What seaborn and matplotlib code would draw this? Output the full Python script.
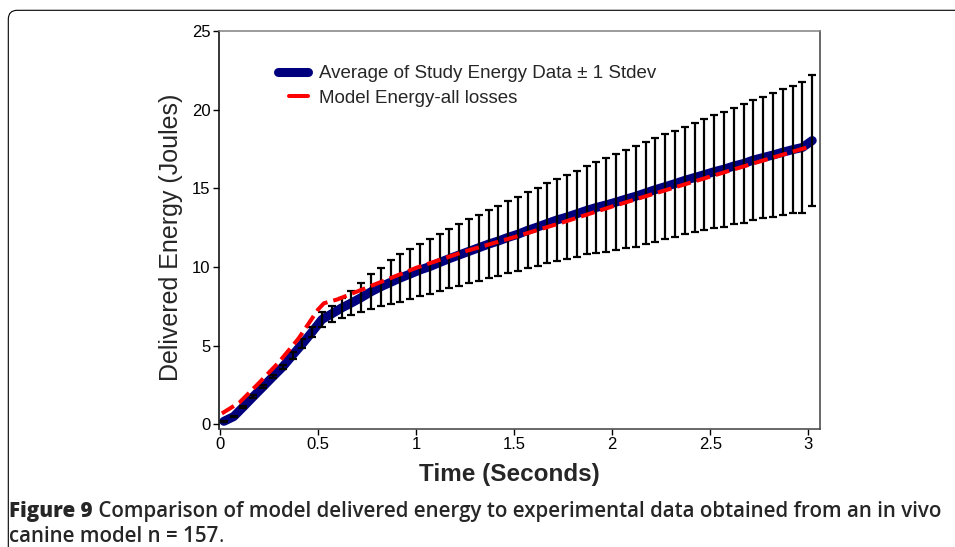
import matplotlib
matplotlib.use('Agg')
import matplotlib.pyplot as plt
import seaborn as sns
from matplotlib.lines import Line2D
from matplotlib.legend_handler import HandlerLine2D
from matplotlib.patches import FancyBboxPatch
from matplotlib.transforms import IdentityTransform

# study data, mean +/- 1 stdev, every 0.05 s
time_s = [0.02, 0.07, 0.12, 0.17, 0.22, 0.27, 0.32, 0.37, 0.42, 0.47,
          0.52, 0.57, 0.62, 0.67, 0.72, 0.77, 0.82, 0.87, 0.92, 0.97,
          1.02, 1.07, 1.12, 1.17, 1.22, 1.27, 1.32, 1.37, 1.42, 1.47,
          1.52, 1.57, 1.62, 1.67, 1.72, 1.77, 1.82, 1.87, 1.92, 1.97,
          2.02, 2.07, 2.12, 2.17, 2.22, 2.27, 2.32, 2.37, 2.42, 2.47,
          2.52, 2.57, 2.62, 2.67, 2.72, 2.77, 2.82, 2.87, 2.92, 2.97,
          3.02]
mean_energy = [0.20, 0.50, 1.13, 1.77, 2.40, 3.04, 3.66, 4.40, 5.12, 5.88,
               6.67, 7.03, 7.40, 7.72, 8.06, 8.43, 8.75, 9.03, 9.31, 9.56,
               9.82, 10.03, 10.29, 10.54, 10.77, 11.00, 11.23, 11.46, 11.66, 11.89,
               12.09, 12.34, 12.55, 12.78, 13.00, 13.18, 13.39, 13.60, 13.79, 13.95,
               14.13, 14.32, 14.50, 14.71, 14.92, 15.11, 15.30, 15.51, 15.69, 15.87,
               16.06, 16.22, 16.42, 16.58, 16.80, 16.96, 17.12, 17.30, 17.46, 17.60,
               18.04]
sd_energy = [0.03, 0.05, 0.06, 0.08, 0.09, 0.11, 0.14, 0.21, 0.28, 0.34,
             0.48, 0.52, 0.64, 0.77, 0.92, 1.10, 1.22, 1.40, 1.51, 1.60,
             1.67, 1.74, 1.81, 1.89, 1.95, 2.03, 2.09, 2.15, 2.23, 2.28,
             2.36, 2.42, 2.48, 2.54, 2.60, 2.67, 2.73, 2.80, 2.87, 2.97,
             3.04, 3.13, 3.21, 3.26, 3.31, 3.34, 3.37, 3.41, 3.48, 3.51,
             3.60, 3.65, 3.70, 3.76, 3.81, 3.86, 3.92, 4.00, 4.04, 4.14,
             4.16]

# model energy (all losses)
model_t = [0.01, 0.1, 0.2, 0.3, 0.4, 0.5, 0.53, 0.6, 0.7, 0.8, 0.9, 1.0,
           1.25, 1.5, 1.75, 2.0, 2.25, 2.5, 2.75, 3.02]
model_energy = [0.7, 1.4, 2.65, 3.95, 5.45, 7.3, 7.7, 7.95, 8.45, 8.95, 9.45, 9.95,
                11.0, 11.9, 12.85, 13.85, 14.8, 15.75, 16.7, 17.7]

x_ticks = [0, 0.5, 1, 1.5, 2, 2.5, 3]
x_labels = ['0', '0.5', '1', '1.5', '2', '2.5', '3']
y_ticks = [0, 5, 10, 15, 20, 25]


class ShortHandler(HandlerLine2D):
    # legend line drawn over the right part of the handle box only
    def get_xdata(self, legend, xdescent, ydescent, width, height, fontsize):
        xdata, xmark = super().get_xdata(legend, xdescent, ydescent, width, height, fontsize)
        xdata = list(xdata)
        xdata[0] = xdata[-1] - 0.62 * (xdata[-1] - xdata[0])
        return xdata, xmark


sns.set_style('ticks')
plt.rcParams['font.family'] = ['Liberation Sans', 'DejaVu Sans']

fig = plt.figure(figsize=(9.55, 5.47), dpi=100)
ax = fig.add_axes([0.2293, 0.2157, 0.629, 0.7276])

navy = '#00007f'
sns.lineplot(x=time_s, y=mean_energy, ax=ax, color=navy, linewidth=6.5,
             solid_capstyle='round', zorder=2)
ax.errorbar(time_s, mean_energy, yerr=sd_energy, fmt='none', ecolor='black',
            elinewidth=1.6, capsize=3, capthick=1.6, zorder=3)
sns.lineplot(x=model_t, y=model_energy, ax=ax, color='red', linewidth=2.9, zorder=4)
ax.lines[-1].set_dashes([3.5, 1.5])

ax.set_xlim(-0.005, 3.058)
ax.set_ylim(-0.29, 25)
ax.set_xticks(x_ticks)
ax.set_xticklabels(x_labels)
ax.set_yticks(y_ticks)
ax.tick_params(axis='both', labelsize=12, length=4, width=1, direction='out',
               colors='black', pad=2)

ax.spines['left'].set_color('black')
ax.spines['bottom'].set_color('#404040')
ax.spines['right'].set_color('#404040')
ax.spines['top'].set_color('#808080')
for s in ax.spines.values():
    s.set_linewidth(1.1)

ax.set_xlabel('Time (Seconds)', fontsize=17.5, fontweight='bold')
ax.xaxis.set_label_coords(0.483, -0.085)
ax.set_ylabel('Delivered Energy (Joules)', fontsize=18)
ax.yaxis.set_label_coords(-0.06, 0.482)

blue_h = Line2D([], [], color=navy, linewidth=6.5, solid_capstyle='round')
red_h = Line2D([], [], color='red', linewidth=2.9)
labels = ['Average of Study Energy Data \u00b1 1 Stdev', 'Model Energy-all losses']
ax.legend([blue_h, red_h], labels, frameon=False, fontsize=13.5, handlelength=1.6,
          handletextpad=0.6, labelspacing=0.4, loc='upper left',
          bbox_to_anchor=(0.07, 0.957), handler_map={red_h: ShortHandler()})

# caption, pieces chained one after another
cap_font = ['Open Sans', 'DejaVu Sans']
cap_size = 14.8
renderer = fig.canvas.get_renderer()
y1 = 1 - 511 / 547
y2 = 1 - 537 / 547
t1 = fig.text(9 / 955, y1, 'Figure 9', fontsize=cap_size, fontweight='heavy',
              family=cap_font, va='center', ha='left')
x_next = t1.get_window_extent(renderer).x1 / 955
fig.text(x_next, y1,
         ' Comparison of model delivered energy to experimental data obtained from an in vivo',
         fontsize=cap_size, fontweight='semibold', family=cap_font, va='center', ha='left')
t3 = fig.text(9 / 955, y2, 'canine model n = 157', fontsize=cap_size,
              fontweight='semibold', family=cap_font, va='center', ha='left')
fig.text(t3.get_window_extent(renderer).x1 / 955, y2, '.', fontsize=cap_size,
         family=cap_font, va='center', ha='left')

# frame round the figure panel
frame = FancyBboxPatch((8.3, -30), 1000, 547 - 10.3 + 30,
                       boxstyle='round,pad=0,rounding_size=9',
                       transform=IdentityTransform(), fill=False,
                       edgecolor='black', linewidth=0.8)
fig.add_artist(frame)

fig.savefig('out.png', dpi=100)
